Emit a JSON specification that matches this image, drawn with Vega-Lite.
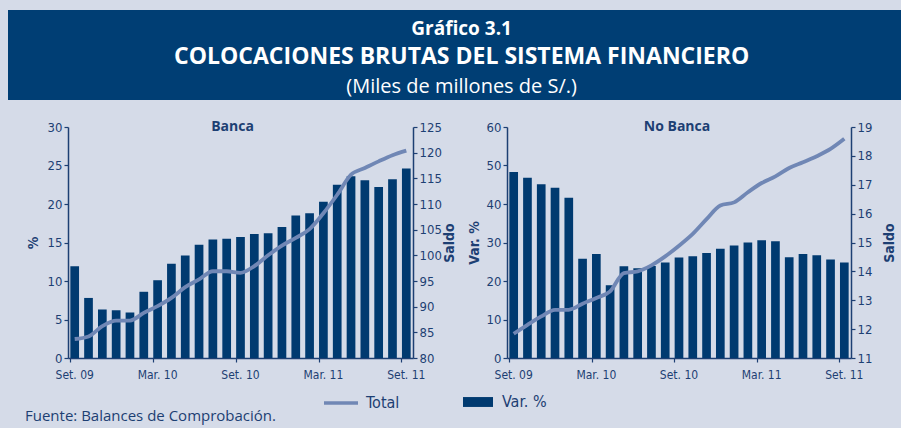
{
  "$schema": "https://vega.github.io/schema/vega-lite/v6.json",
  "background": "#d5dbe8",
  "padding": {"left": 8, "top": 10, "right": 0, "bottom": 4},
  "datasets": {
    "titulos": [
      {"k": 1, "t": "Gráfico 3.1"},
      {"k": 2, "t": "COLOCACIONES BRUTAS DEL SISTEMA FINANCIERO"},
      {"k": 3, "t": "(Miles de millones de S/.)"}
    ],
    "banca": [
      {"mes": "Set. 09", "pct": 11.9, "saldo": 83.7},
      {"mes": "Oct. 09", "pct": 7.8, "saldo": 84.2},
      {"mes": "Nov. 09", "pct": 6.3, "saldo": 86.2},
      {"mes": "Dic. 09", "pct": 6.2, "saldo": 87.3},
      {"mes": "Ene. 10", "pct": 5.9, "saldo": 87.3},
      {"mes": "Feb. 10", "pct": 8.6, "saldo": 88.8},
      {"mes": "Mar. 10", "pct": 10.1, "saldo": 90.1},
      {"mes": "Abr. 10", "pct": 12.25, "saldo": 91.7},
      {"mes": "May. 10", "pct": 13.3, "saldo": 93.8},
      {"mes": "Jun. 10", "pct": 14.7, "saldo": 95.3},
      {"mes": "Jul. 10", "pct": 15.4, "saldo": 96.9},
      {"mes": "Ago. 10", "pct": 15.5, "saldo": 96.9},
      {"mes": "Set. 10", "pct": 15.7, "saldo": 96.6},
      {"mes": "Oct. 10", "pct": 16.1, "saldo": 97.9},
      {"mes": "Nov. 10", "pct": 16.2, "saldo": 100.0},
      {"mes": "Dic. 10", "pct": 17.0, "saldo": 101.9},
      {"mes": "Ene. 11", "pct": 18.5, "saldo": 103.4},
      {"mes": "Feb. 11", "pct": 18.8, "saldo": 105.1},
      {"mes": "Mar. 11", "pct": 20.3, "saldo": 108.2},
      {"mes": "Abr. 11", "pct": 22.5, "saldo": 111.8},
      {"mes": "May. 11", "pct": 23.6, "saldo": 115.7},
      {"mes": "Jun. 11", "pct": 23.1, "saldo": 117.0},
      {"mes": "Jul. 11", "pct": 22.2, "saldo": 118.3},
      {"mes": "Ago. 11", "pct": 23.2, "saldo": 119.5},
      {"mes": "Set. 11", "pct": 24.6, "saldo": 120.4}
    ],
    "nobanca": [
      {"mes": "Set. 09", "pct": 48.3, "saldo": 11.84},
      {"mes": "Oct. 09", "pct": 46.8, "saldo": 12.15},
      {"mes": "Nov. 09", "pct": 45.1, "saldo": 12.44},
      {"mes": "Dic. 09", "pct": 44.2, "saldo": 12.67},
      {"mes": "Ene. 10", "pct": 41.6, "saldo": 12.67},
      {"mes": "Feb. 10", "pct": 25.8, "saldo": 12.88},
      {"mes": "Mar. 10", "pct": 27.0, "saldo": 13.08},
      {"mes": "Abr. 10", "pct": 18.9, "saldo": 13.31},
      {"mes": "May. 10", "pct": 23.8, "saldo": 13.94},
      {"mes": "Jun. 10", "pct": 23.3, "saldo": 14.0},
      {"mes": "Jul. 10", "pct": 23.9, "saldo": 14.21},
      {"mes": "Ago. 10", "pct": 24.8, "saldo": 14.52},
      {"mes": "Set. 10", "pct": 26.1, "saldo": 14.89},
      {"mes": "Oct. 10", "pct": 26.4, "saldo": 15.3},
      {"mes": "Nov. 10", "pct": 27.3, "saldo": 15.81},
      {"mes": "Dic. 10", "pct": 28.4, "saldo": 16.28},
      {"mes": "Ene. 11", "pct": 29.2, "saldo": 16.39},
      {"mes": "Feb. 11", "pct": 30.0, "saldo": 16.74},
      {"mes": "Mar. 11", "pct": 30.6, "saldo": 17.06},
      {"mes": "Abr. 11", "pct": 30.3, "saldo": 17.29},
      {"mes": "May. 11", "pct": 26.2, "saldo": 17.58},
      {"mes": "Jun. 11", "pct": 27.0, "saldo": 17.78},
      {"mes": "Jul. 11", "pct": 26.7, "saldo": 17.99},
      {"mes": "Ago. 11", "pct": 25.6, "saldo": 18.24},
      {"mes": "Set. 11", "pct": 24.8, "saldo": 18.59}
    ]
  },
  "title": {
    "text": "Fuente: Balances de Comprobación.",
    "orient": "bottom",
    "anchor": "start",
    "frame": "group",
    "font": "Open Sans",
    "fontSize": 15,
    "fontWeight": "normal",
    "color": "#1d3f73",
    "offset": -2,
    "dx": 17
  },
  "bounds": "flush",
  "spacing": 27,
  "vconcat": [
    {
      "width": 893,
      "height": 90,
      "view": {"fill": "#003e74", "stroke": null},
      "data": {"name": "titulos"},
      "encoding": {
        "x": {"datum": 0.508, "type": "quantitative", "scale": {"domain": [0, 1]}, "axis": null},
        "y": {"field": "k", "type": "quantitative", "scale": {"domain": [1, 3], "range": [25, 83]}, "axis": null},
        "text": {"field": "t"}
      },
      "layer": [
        {"transform": [{"filter": "datum.k == 1"}], "mark": {"type": "text", "font": "Open Sans", "fontWeight": "bold", "fontSize": 19, "fill": "white", "baseline": "alphabetic", "align": "center"}},
        {"transform": [{"filter": "datum.k == 2"}], "mark": {"type": "text", "font": "Open Sans", "fontWeight": "bold", "fontSize": 23, "fill": "white", "baseline": "alphabetic", "align": "center"}},
        {"transform": [{"filter": "datum.k == 3"}], "mark": {"type": "text", "font": "Open Sans", "fontWeight": "normal", "fontSize": 20, "fill": "white", "baseline": "alphabetic", "align": "center"}}
      ]
    },
    {
      "bounds": "flush",
      "spacing": 0,
      "hconcat": [
        {
          "width": 60,
          "height": 231,
          "data": {"values": [{"v": ""}]},
          "mark": {"type": "text", "text": ""},
          "encoding": {}
        },
        {
          "bounds": "flush",
          "spacing": 94,
          "hconcat": [
            {
              "width": 345,
              "height": 231,
              "title": {"text": "Banca", "font": "Open Sans", "fontSize": 14, "fontWeight": "bold", "color": "#1d3f73", "offset": -24, "baseline": "alphabetic", "dx": -8},
              "data": {"name": "banca"},
              "encoding": {
                "x": {
                  "field": "mes", "type": "nominal", "sort": null,
                  "scale": {"paddingInner": 0.37, "paddingOuter": 0.17},
                  "axis": {"values": ["Set. 09", "Mar. 10", "Set. 10", "Mar. 11", "Set. 11"], "bandPosition": 0, "title": null, "labelAngle": 0}
                }
              },
              "layer": [
                {
                  "mark": {"type": "bar"},
                  "encoding": {
                    "y": {"field": "pct", "type": "quantitative", "scale": {"domain": [0, 30]}, "axis": {"orient": "left", "values": [0, 5, 10, 15, 20, 25, 30], "title": "%", "titlePadding": 7}},
                    "fill": {"datum": "Var. %", "scale": {"domain": ["Var. %"], "range": ["#003a70"]}, "legend": {"orient": "none", "legendX": 455, "legendY": 377, "title": null, "symbolType": "M-1,-0.33H1V0.33H-1Z", "symbolSize": 900, "symbolStrokeWidth": 0, "labelOffset": 9, "padding": 0}}
                  }
                },
                {
                  "mark": {"type": "line", "strokeWidth": 3.8, "interpolate": "monotone"},
                  "encoding": {
                    "y": {"field": "saldo", "type": "quantitative", "scale": {"domain": [80, 125]}, "axis": {"orient": "right", "values": [80, 85, 90, 95, 100, 105, 110, 115, 120, 125], "title": "Saldo", "titleAngle": 270, "titleBaseline": "top", "titlePadding": 1}},
                    "stroke": {"datum": "Total", "scale": {"domain": ["Total"], "range": ["#7087b5"]}, "legend": {"orient": "none", "legendX": 314, "legendY": 374, "title": null, "symbolType": "stroke", "symbolSize": 1156, "symbolStrokeWidth": 3.5, "labelOffset": 6, "padding": 0}}
                  }
                }
              ],
              "resolve": {"scale": {"y": "independent"}}
            },
            {
              "width": 344,
              "height": 231,
              "title": {"text": "No Banca", "font": "Open Sans", "fontSize": 14, "fontWeight": "bold", "color": "#1d3f73", "offset": -24, "baseline": "alphabetic", "dx": -2},
              "data": {"name": "nobanca"},
              "encoding": {
                "x": {
                  "field": "mes", "type": "nominal", "sort": null,
                  "scale": {"paddingInner": 0.37, "paddingOuter": 0.17},
                  "axis": {"values": ["Set. 09", "Mar. 10", "Set. 10", "Mar. 11", "Set. 11"], "bandPosition": 0, "title": null, "labelAngle": 0}
                }
              },
              "layer": [
                {
                  "mark": {"type": "bar"},
                  "encoding": {
                    "y": {"field": "pct", "type": "quantitative", "scale": {"domain": [0, 60]}, "axis": {"orient": "left", "values": [0, 10, 20, 30, 40, 50, 60], "title": "Var. %", "titlePadding": 5}},
                    "fill": {"datum": "Var. %", "scale": {"domain": ["Var. %"], "range": ["#003a70"]}, "legend": {"orient": "none", "legendX": 455, "legendY": 377, "title": null, "symbolType": "M-1,-0.33H1V0.33H-1Z", "symbolSize": 900, "symbolStrokeWidth": 0, "labelOffset": 9, "padding": 0}}
                  }
                },
                {
                  "mark": {"type": "line", "strokeWidth": 3.8, "interpolate": "monotone"},
                  "encoding": {
                    "y": {"field": "saldo", "type": "quantitative", "scale": {"domain": [11, 19]}, "axis": {"orient": "right", "values": [11, 12, 13, 14, 15, 16, 17, 18, 19], "title": "Saldo", "titleAngle": 270, "titleBaseline": "top", "titlePadding": 11}},
                    "stroke": {"datum": "Total", "scale": {"domain": ["Total"], "range": ["#7087b5"]}, "legend": {"orient": "none", "legendX": 314, "legendY": 374, "title": null, "symbolType": "stroke", "symbolSize": 1156, "symbolStrokeWidth": 3.5, "labelOffset": 6, "padding": 0}}
                  }
                }
              ],
              "resolve": {"scale": {"y": "independent"}}
            }
          ]
        }
      ]
    }
  ],
  "config": {
    "view": {"stroke": null},
    "axis": {
      "domainColor": "#1d3f73",
      "domainWidth": 1.5,
      "tickColor": "#1d3f73",
      "tickWidth": 1.2,
      "tickSize": 4,
      "labelFont": "Liberation Sans Narrow, DejaVu Sans Condensed, sans-serif",
      "labelFontSize": 13,
      "labelColor": "#1d3f73",
      "labelPadding": 2,
      "titleFont": "Liberation Sans Narrow, DejaVu Sans Condensed, sans-serif",
      "titleFontSize": 14,
      "titleFontWeight": "bold",
      "titleColor": "#1d3f73",
      "grid": false
    },
    "axisX": {"labelFontSize": 12, "labelPadding": 7},
    "legend": {
      "labelFont": "Liberation Sans Narrow, DejaVu Sans Condensed, sans-serif",
      "labelFontSize": 16,
      "labelColor": "#1d3f73"
    }
  }
}
